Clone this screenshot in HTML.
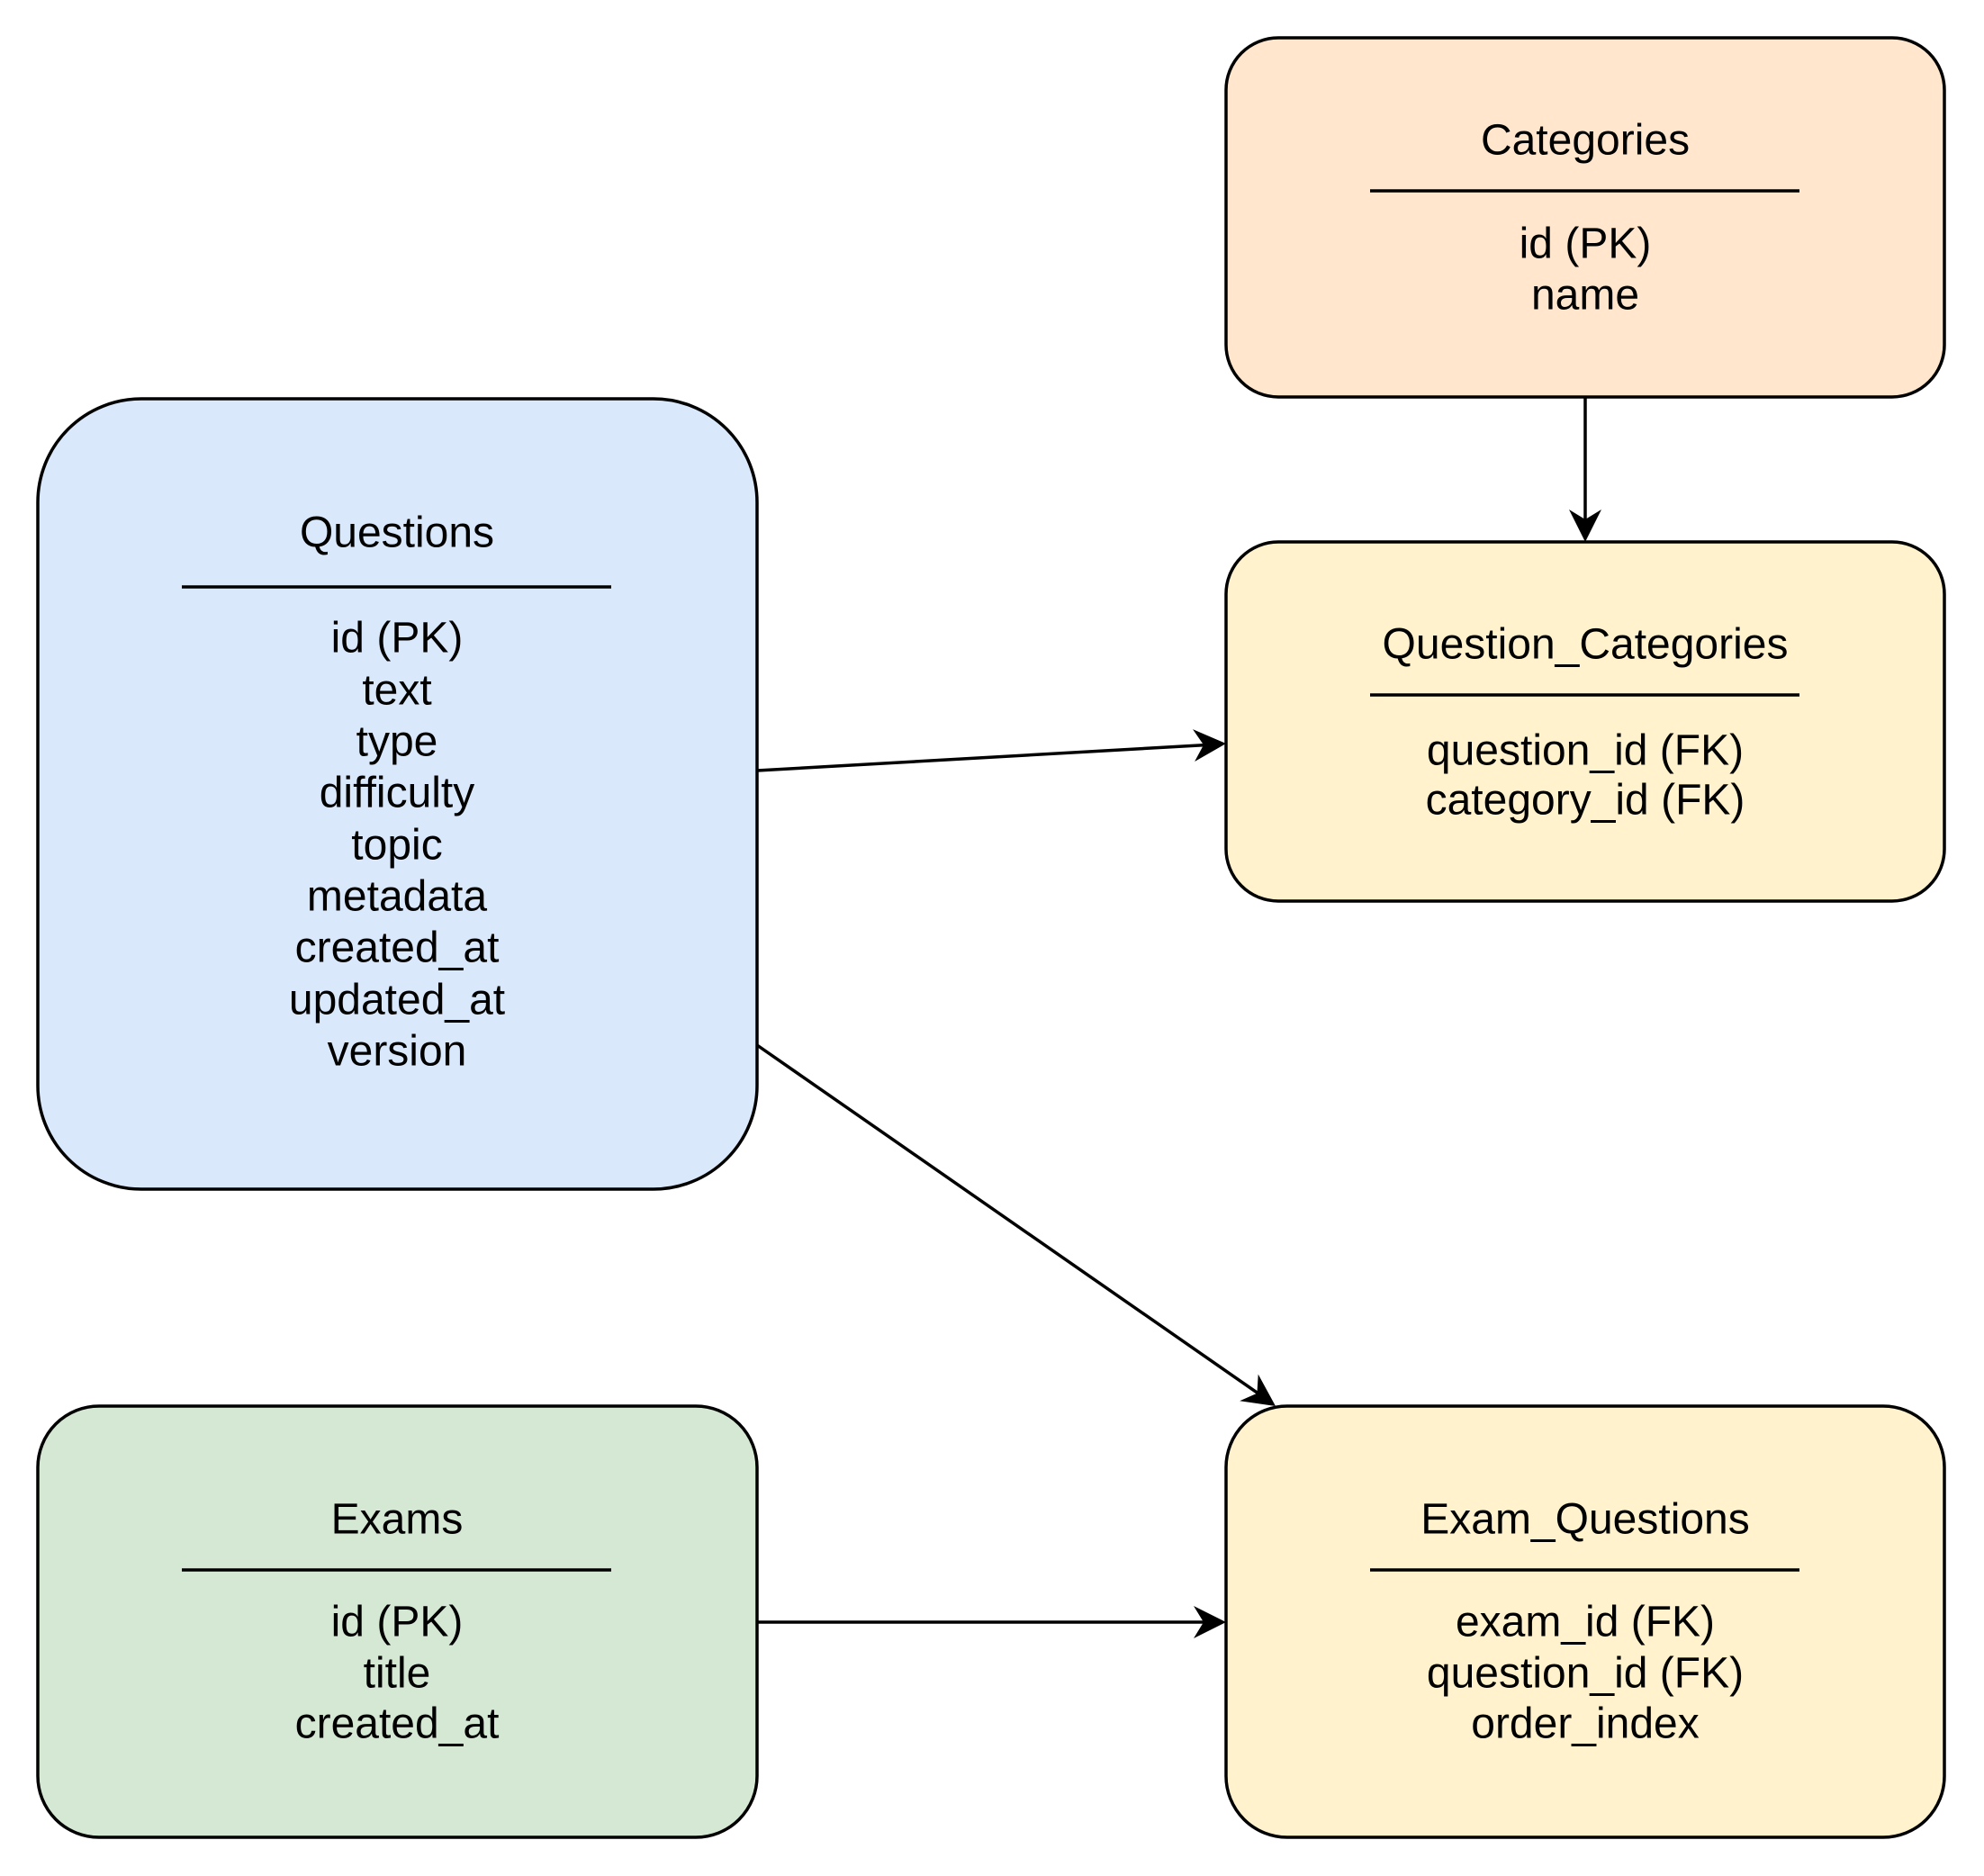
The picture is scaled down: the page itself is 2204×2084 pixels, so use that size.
<!DOCTYPE html>
<html><head><meta charset="utf-8"><style>
html,body{margin:0;padding:0;background:#fff;}
svg{display:block;}
text{font-family:"Liberation Sans",Arial,sans-serif;font-size:48px;fill:#000;text-anchor:middle;dominant-baseline:central;}
</style></head><body>
<svg width="2204" height="2084" viewBox="0 0 2204 2084" xmlns="http://www.w3.org/2000/svg">
<g stroke="#000" stroke-width="3.5">
<rect x="1362" y="42" width="798" height="399" rx="58" ry="58" fill="#ffe6cc"/>
<rect x="1362" y="602" width="798" height="399" rx="58" ry="58" fill="#fff2cc"/>
<rect x="42" y="443" width="799" height="878" rx="115" ry="115" fill="#dae8fc"/>
<rect x="42" y="1562" width="799" height="479" rx="68" ry="68" fill="#d5e8d4"/>
<rect x="1362" y="1562" width="798" height="479" rx="68" ry="68" fill="#fff2cc"/>
<line x1="202" y1="652" x2="679" y2="652"/>
<line x1="1522" y1="212" x2="1999" y2="212"/>
<line x1="1522" y1="772" x2="1999" y2="772"/>
<line x1="202" y1="1744" x2="679" y2="1744"/>
<line x1="1522" y1="1744" x2="1999" y2="1744"/>
<line x1="1761" y1="441" x2="1761" y2="590"/>
<line x1="841" y1="856" x2="1350" y2="827"/>
<line x1="841" y1="1161" x2="1405" y2="1553"/>
<line x1="841" y1="1802" x2="1350" y2="1802"/>
</g>
<g fill="#000">
<path d="M0,0 L-36,-18 L-25,0 L-36,18 Z" transform="translate(1761,602) rotate(90)"/>
<path d="M0,0 L-36,-18 L-25,0 L-36,18 Z" transform="translate(1362,826) rotate(-3.3)"/>
<path d="M0,0 L-36,-18 L-25,0 L-36,18 Z" transform="translate(1417,1562) rotate(34.8)"/>
<path d="M0,0 L-36,-18 L-25,0 L-36,18 Z" transform="translate(1362,1802)"/>
</g>
<text x="1761" y="156">Categories</text>
<text x="1761" y="271">id (PK)</text>
<text x="1761" y="328">name</text>
<text x="1761" y="716">Question_Categories</text>
<text x="1761" y="834">question_id (FK)</text>
<text x="1761" y="889">category_id (FK)</text>
<text x="441" y="592">Questions</text>
<text x="441" y="709">id (PK)</text>
<text x="441" y="767">text</text>
<text x="441" y="824">type</text>
<text x="441" y="881">difficulty</text>
<text x="441" y="939">topic</text>
<text x="441" y="996">metadata</text>
<text x="441" y="1053">created_at</text>
<text x="441" y="1111">updated_at</text>
<text x="441" y="1168">version</text>
<text x="441" y="1688">Exams</text>
<text x="441" y="1802">id (PK)</text>
<text x="441" y="1859">title</text>
<text x="441" y="1915">created_at</text>
<text x="1761" y="1688">Exam_Questions</text>
<text x="1761" y="1802">exam_id (FK)</text>
<text x="1761" y="1859">question_id (FK)</text>
<text x="1761" y="1915">order_index</text>
</svg>
</body></html>
